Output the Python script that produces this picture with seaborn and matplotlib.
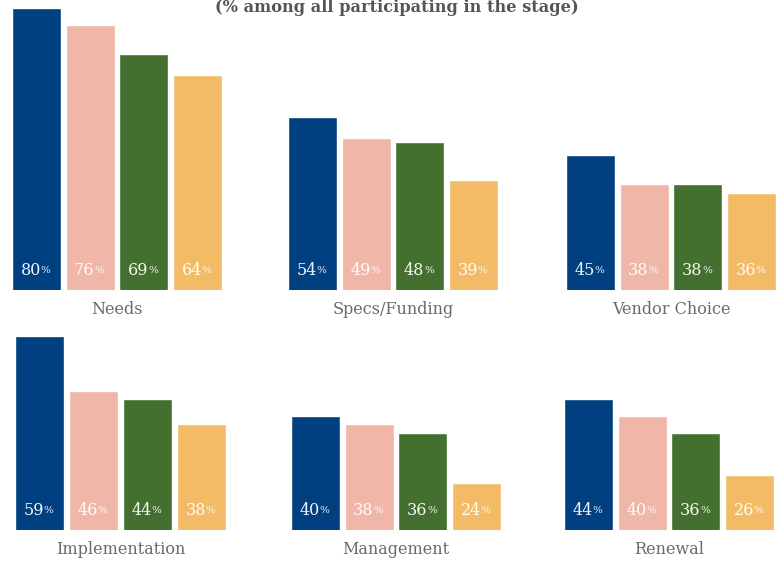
import matplotlib
matplotlib.use("Agg")
import matplotlib.pyplot as plt
import seaborn as sns
import pandas as pd

# Share of participants per stage, four respondent groups
stages = ["Needs", "Specs/Funding", "Vendor Choice",
          "Implementation", "Management", "Renewal"]
groups = ["G1", "G2", "G3", "G4"]
needs = [80, 76, 69, 64]
specs_funding = [54, 49, 48, 39]
vendor_choice = [45, 38, 38, 36]
implementation = [59, 46, 44, 38]
management = [40, 38, 36, 24]
renewal = [44, 40, 36, 26]
colors = ["#004080", "#F0B6A8", "#44702F", "#F3BB66"]
title = "(% among all participating in the stage)"

values = [needs, specs_funding, vendor_choice, implementation, management, renewal]
rows = []
for stage, vals in zip(stages, values):
    for g, v in zip(groups, vals):
        rows.append({"stage": stage, "group": g, "value": v})
df = pd.DataFrame(rows)

sns.set_theme(style="white")
plt.rcParams["font.family"] = ["DejaVu Serif"]

W, H = 779, 563
fig = plt.figure(figsize=(W / 100, H / 100), dpi=100)

# panel placement in pixels: (left, bottom-from-top, width)
panel_px = [
    (12, 290, 210), (288, 290, 210), (566, 290, 210),
    (15, 530, 211), (291, 530, 210), (564, 530, 210),
]
YMIN, YMAX = 12.8, 79.7
AX_H = 281
BW = 0.91

for stage, (lx, by, wd) in zip(stages, panel_px):
    ax = fig.add_axes([lx / W, (H - by) / H, wd / W, AX_H / H])
    sub = df[df["stage"] == stage]
    sns.barplot(data=sub, x="group", y="value", hue="group", palette=colors,
                order=groups, hue_order=groups, width=BW, saturation=1,
                legend=False, ax=ax)
    ax.set_xlim(-BW / 2, len(groups) - 1 + BW / 2)
    ax.set_ylim(YMIN, YMAX)
    ax.axis("off")
    for i, v in enumerate(sub["value"]):
        ax.annotate(f"{v}", xy=(i, YMIN), xytext=(3.2, 14.2),
                    textcoords="offset points", ha="right", va="center",
                    color="white", fontsize=11.5, alpha=0.95)
        ax.annotate("%", xy=(i, YMIN), xytext=(2.9, 13.9),
                    textcoords="offset points", ha="left", va="center",
                    color="white", fontsize=7.5, alpha=0.95)
    ax.annotate(stage, xy=(0.5, 0), xycoords="axes fraction",
                xytext=(0, -14), textcoords="offset points",
                ha="center", va="center", color="#6a6a6a", fontsize=11.5)

fig.text(397 / W, 1 - 12 / H, title, ha="center", va="baseline",
         color="#555555", fontsize=11.7, fontweight="bold")

fig.savefig("out.png", dpi=100)
